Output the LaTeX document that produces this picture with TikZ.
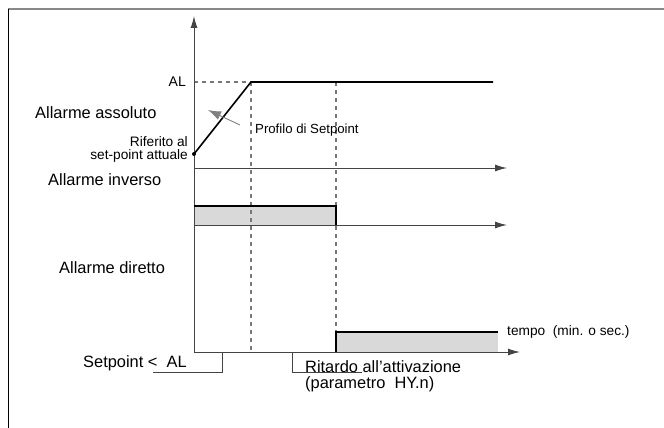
\documentclass[tikz,border=0pt]{standalone}
\usepackage{fontspec}
\setmainfont{Liberation Sans}
\usetikzlibrary{arrows.meta}
\definecolor{boxgray}{HTML}{D9D9D9}
\definecolor{axisgray}{HTML}{444444}
\definecolor{dashgray}{HTML}{777777}
\definecolor{framegray}{HTML}{888888}
\tikzset{
  axisline/.style={draw=axisgray, line width=1pt},
  axisarrow/.style={axisline, -{Latex[length=12pt,width=7pt]}},
  sigline/.style={draw=black, line width=1.6pt, line join=miter},
  guide/.style={draw=dashgray, line width=1.1pt, dash pattern=on 4pt off 4pt},
  bigtxt/.style={inner sep=0pt, font=\fontsize{16.4}{18}\selectfont},
  smalltxt/.style={inner sep=0pt, font=\fontsize{13.7}{15}\selectfont},
  bracket/.style={draw=axisgray, line width=1pt},
  pointer/.style={draw=gray, line width=0.9pt, -{Latex[length=13pt,width=9pt]}},
}
\begin{document}
\begin{tikzpicture}[x=1pt,y=-1pt]
\useasboundingbox (0,0) rectangle (664,428);
% frame
\draw[framegray, line width=2pt] (8,9) -- (664,9);
\draw[black, line width=0.9pt] (8,9) -- (8,428);

% grey boxes
\fill[boxgray] (194,206) rectangle (336,225);
\fill[boxgray] (336,332) rectangle (498,352);

% guide lines
\draw[guide] (194,82) -- (251,82);
\draw[guide] (251,82) -- (251,352);
\draw[guide] (336,82) -- (336,332);

% vertical axis
\coordinate (O) at (194,352);
\coordinate (top) at (194,16);
\draw[axisarrow] (O) -- (top);

% time axes
\coordinate (a1s) at (194,168);
\coordinate (a1e) at (507,168);
\coordinate (a2s) at (194,225);
\coordinate (a2e) at (507,225);
\coordinate (a3e) at (520,352);
\draw[axisarrow] (a1s) -- (a1e);
\draw[axisarrow] (a2s) -- (a2e);
\draw[axisarrow] (O) -- (a3e);

% absolute alarm profile
\coordinate (p0) at (194,154);
\coordinate (p1) at (251,82);
\coordinate (p2) at (493,82);
\draw[sigline] (p0) -- (p1) -- (p2);
\fill (p0) circle (2pt);

% inverse alarm
\draw[sigline] (194,206) -- (336,206) -- (336,225);
% direct alarm
\draw[sigline] (336,352) -- (336,332) -- (498,332);

% labels
\node[bigtxt, anchor=base west] (assoluto) at (35,118) {Allarme assoluto};
\node[smalltxt, anchor=base east] (rif1) at (188,146) {Riferito al};
\node[smalltxt, anchor=base east] (rif2) at (188,159) {set-point attuale};
\node[inner sep=0pt, anchor=east, font=\fontsize{14}{16}\selectfont] (AL) at (186,82) {AL};
\node[inner sep=0pt, anchor=base west, font=\fontsize{13.2}{15}\selectfont] (profilo) at (255,133) {Profilo di Setpoint};
\coordinate (ptail) at (240,125);
\coordinate (ptip) at (208,110);
\draw[pointer] (ptail) -- (ptip);
\node[bigtxt, anchor=base west] (inverso) at (48,185) {Allarme inverso};
\node[bigtxt, anchor=base west] (diretto) at (59,273) {Allarme diretto};
\node[smalltxt, anchor=base west] (tempo) at (507,335) {tempo\ \ (min. o sec.)};
\node[bigtxt, anchor=base west] (setp) at (83,367) {Setpoint <\ \ AL};
\node[bigtxt, anchor=base west] (rit1) at (305,372) {Ritardo all’attivazione};
\node[bigtxt, anchor=base west] (rit2) at (305,388) {(parametro\ \ HY.n)};

% brackets
\draw[bracket] (153,372) -- (222,372) -- (222,352);
\draw[bracket] (362,372) -- (292,372) -- (292,352);
\end{tikzpicture}
\end{document}
